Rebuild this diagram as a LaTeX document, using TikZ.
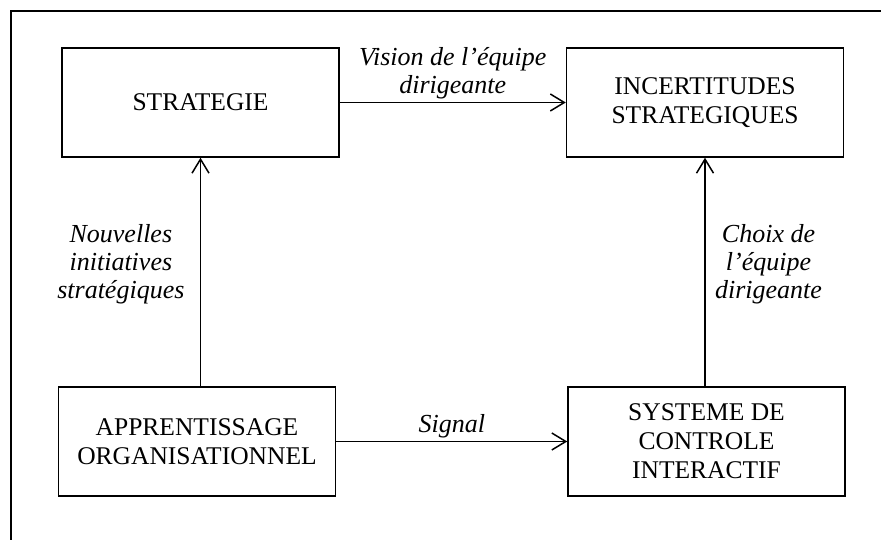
\documentclass[tikz,border=0pt]{standalone}
\usepackage{fontspec}
\setmainfont{Liberation Serif}
\usetikzlibrary{arrows.meta}

\begin{document}
\begin{tikzpicture}[x=1pt,y=1pt,
    caja/.style={rectangle,draw=black,line width=1.5pt,minimum width=277pt,minimum height=109pt,align=center,font=\fontsize{25.5}{29}\selectfont},
    etiqueta/.style={align=center,font=\fontsize{26}{28}\selectfont\itshape},
    flecha/.style={line width=1.5pt,-{Straight Barb[length=14pt,width=17pt,line width=1.5pt]}}  ]
    \useasboundingbox (0,0) rectangle (881,540);
    % marco
    \draw[line width=1.5pt] (11,0) -- (11,529) -- (881,529);
    % cajas
    \node[caja] (estrategia) at (200.5,437.5) {STRATEGIE};
    \node[caja] (incertidumbres) at (705,437.5) {INCERTITUDES\\STRATEGIQUES};
    \node[caja] (aprendizaje) at (197,98.5) {APPRENTISSAGE\\ORGANISATIONNEL};
    \node[caja] (sistema) at (706.5,98.5) {SYSTEME DE\\CONTROLE\\INTERACTIF};
    % flechas
    \draw[flecha] (estrategia.east) -- node[etiqueta,above,inner sep=3pt] (vision) {Vision de l'équipe\\dirigeante} (incertidumbres.west);
    \draw[flecha] (aprendizaje.east) -- node[etiqueta,above,inner sep=3pt] (senal) {Signal} (sistema.west);
    \draw[flecha] (aprendizaje.north -| estrategia.south) -- node[etiqueta,left=12pt,yshift=8pt] (iniciativas) {Nouvelles\\initiatives\\stratégiques} (estrategia.south);
    \draw[flecha] (sistema.north -| incertidumbres.south) -- node[etiqueta,right=6pt,yshift=8pt] (eleccion) {Choix de\\l'équipe\\dirigeante} (incertidumbres.south);
\end{tikzpicture}
\end{document}
